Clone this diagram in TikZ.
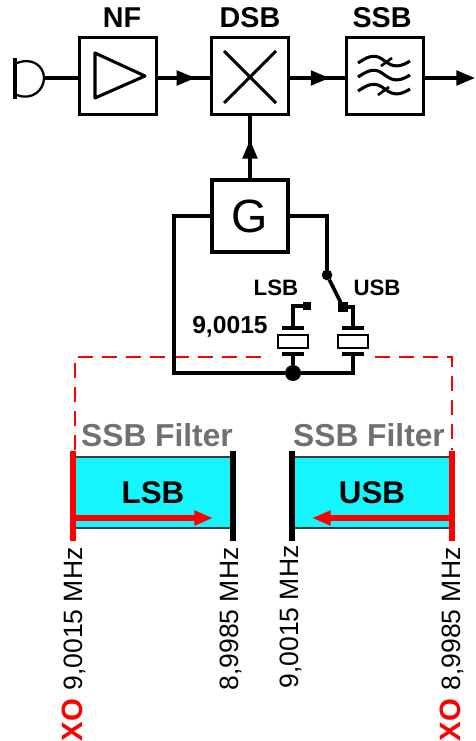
\documentclass[tikz,border=0pt]{standalone}
\usepackage{fontspec}
\setmainfont{Liberation Sans}
\usetikzlibrary{arrows.meta,decorations.markings}

\definecolor{filtercyan}{RGB}{20,245,255}
\definecolor{filtergray}{RGB}{112,112,112}
\definecolor{filterline}{RGB}{60,60,60}

\tikzset{every picture/.style={line width=2.3pt}}
\tikzset{
  blockbox/.style={draw,minimum width=58pt,minimum height=58pt,inner sep=0pt},
  plate/.style={fill=black,outer sep=0pt,minimum width=17pt,minimum height=2.4pt,inner sep=0pt},
  xtal/.style={draw,line width=1.1pt,minimum width=22.5pt,minimum height=9.5pt,inner sep=0pt},
  contact/.style={fill=black,outer sep=0pt,inner sep=0pt,minimum size=#1},
  headlabel/.style={inner sep=0pt,font=\fontsize{21.5}{24}\selectfont\bfseries},
  smalllabel/.style={inner sep=0pt,font=\fontsize{16.7}{20}\selectfont\bfseries},
  filterlabel/.style={inner sep=0pt,text=filtergray,font=\fontsize{23.8}{26}\selectfont\bfseries},
  filterbox/.style={draw=filterline,line width=1.1pt,fill=filtercyan,minimum width=120pt,minimum height=53pt,inner sep=0pt,font=\fontsize{23.5}{26}\selectfont\bfseries},
  filterbar/.style={fill=#1,outer sep=0pt,minimum width=4.4pt,minimum height=67pt,inner sep=0pt},
  freqlabel/.style={anchor=base,rotate=90,inner sep=0pt,font=\fontsize{19.9}{22}\selectfont},
  xolabel/.style={anchor=base,rotate=90,inner sep=0pt,text=red,font=\fontsize{22}{24}\selectfont\bfseries},
  reddash/.style={draw=red,line width=1.1pt,dash pattern=on 11pt off 7pt},
  redarrow/.style={draw=red,line width=4pt,-{Triangle[length=14pt,width=10.5pt]}},
  midarrow/.style={postaction={decorate},decoration={markings,mark=at position #1 with {\arrow{Triangle[length=14pt,width=11pt]}}}}
}

\begin{document}
\begin{tikzpicture}[x=0.75pt,y=0.75pt,yscale=-1,xscale=1]
\useasboundingbox (0,0) rectangle (475,741);

% Red dashed lines
\coordinate (dashl) at (270,357);
\coordinate (cornerl) at (75,357);
\coordinate (endl) at (75,450);
\coordinate (dashr) at (375,357);
\coordinate (cornerr) at (452,357);
\coordinate (endr) at (452,450);
\draw [reddash] (endl) -- (cornerl) -- (dashl) ;
\draw [reddash] (dashr) -- (cornerr) -- (endr) ;

% Blocks
\node [blockbox] (nf) at (118,76) {};
\node [blockbox] (dsb) at (250,76) {};
\node [blockbox] (ssb) at (385,76) {};
\node [blockbox,minimum width=57pt,minimum height=54pt,font=\fontsize{35}{40}\selectfont] (gen) at (250,216) {G};

%Shape: Microphone
\coordinate (mic) at (44,78);
\coordinate (out) at (475,78);
\draw [line width=1.7pt] (17,63) .. controls (32,57) and (44,66) .. (mic) .. controls (44,90) and (32,101) .. (17,95) ;
\draw [line width=3.6pt] (15,58) -- (15,99) ;

%Shape: Triangle
\draw [line join=round] (95,53) -- (95,98) -- (145,76) -- cycle ;
%Shape: Cross
\draw (224,51) -- (276,103) ;
\draw (276,51) -- (224,103) ;
%Shape: Waves
\foreach \yy in {0,14,28} {
  \draw [line width=2.3pt] (358,63+\yy) .. controls (366,58+\yy) and (373,53+\yy) .. (382,59+\yy) .. controls (390,65+\yy) and (396,70+\yy) .. (410,61+\yy) ;
}
\draw [line width=2pt] (392,58) -- (381,66) ;
\draw [line width=2pt] (389,87) -- (378,95) ;

% Connectors
\draw (mic) -- (mic -| nf.west) ;
\draw [midarrow=0.72] (nf.east |- mic) -- (dsb.west |- mic) ;
\draw [midarrow=0.72] (dsb.east |- mic) -- (ssb.west |- mic) ;
\draw [-{Triangle[length=14pt,width=11pt]}] (ssb.east |- mic) -- (out) ;
\draw [midarrow=0.62] (gen.north) -- (dsb.south) ;

% Crystals
\node [xtal] (xtall) at (293,341.5) {};
\node [xtal] (xtalu) at (353,341.5) {};
\node [plate] (platetl) at (293,328) {};
\node [plate] (platetu) at (353,328) {};
\node [plate] (platebl) at (293,354) {};
\node [plate] (platebu) at (353,354) {};

% Switch and junction
\node [contact=8pt,circle] (swa) at (327,275) {};
\node [contact=7pt,rectangle] (swb) at (343,307) {};
\node [contact=6pt,rectangle] (swl) at (307,306) {};
\node [contact=12pt,circle] (jct) at (293,373) {};
\coordinate (cornerg) at (174,373);

\draw (gen.west) -| (cornerg) -- (jct) ;
\draw (gen.east) -| (swa) ;
\draw [line width=2.8pt] (swa) -- (swb) ;
\draw (swb) -| (platetu.north) ;
\draw (platetl.north) |- (swl) ;
\draw (platebl.south) -- (jct) ;
\draw (jct) -| (platebu.south) ;

% Filters
\node [filterbox] (lsbf) at (153,492.5) {LSB};
\node [filterbox] (usbf) at (372,492.5) {USB};
\node [filterbar=red] (barl) at (73,496) {};
\node [filterbar=black] (barm) at (233,496) {};
\node [filterbar=black] (barn) at (292,496) {};
\node [filterbar=red] (barr) at (452,496) {};
\coordinate (tipl) at (213,518);
\coordinate (tipr) at (312,518);
\draw [redarrow] (barl |- tipl) -- (tipl) ;
\draw [redarrow] (barr |- tipr) -- (tipr) ;

% Text Node
\node [headlabel] (nft) at (122,18) {NF};
% Text Node
\node [headlabel] (dsbt) at (250,18) {DSB};
% Text Node
\node [headlabel] (ssbt) at (382,18) {SSB};
% Text Node
\node [smalllabel] (lsbt) at (276,288) {LSB};
% Text Node
\node [smalllabel] (usbt) at (377,288) {USB};
% Text Node
\node [smalllabel,font=\fontsize{18.5}{20}\selectfont\bfseries,anchor=base] (xof) at (230,333) {9,0015};
% Text Node
\node [filterlabel] (sfl) at (157,435) {SSB Filter};
% Text Node
\node [filterlabel] (sfr) at (369,435) {SSB Filter};
% Text Node
\node [freqlabel] (fa) at (82,619) {9,0015 MHz};
% Text Node
\node [freqlabel] (fb) at (238,619) {8,9985 MHz};
% Text Node
\node [freqlabel] (fc) at (298,617) {9,0015 MHz};
% Text Node
\node [freqlabel] (fd) at (460,619) {8,9985 MHz};
% Text Node
\node [xolabel] (xa) at (82,720) {XO};
% Text Node
\node [xolabel] (xb) at (460,720) {XO};

\end{tikzpicture}
\end{document}
